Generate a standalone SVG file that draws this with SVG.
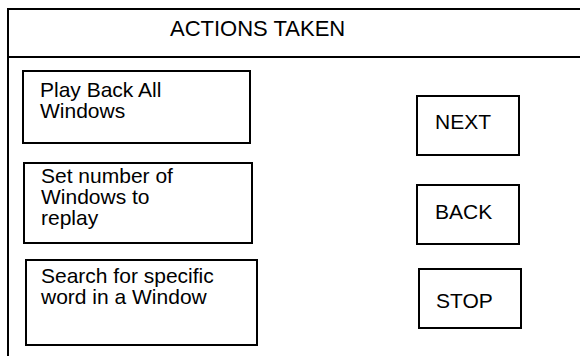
<svg xmlns="http://www.w3.org/2000/svg" width="580" height="356" viewBox="0 0 580 356">
  <style>
    .frame { fill: none; stroke: #000; stroke-width: 2; }
    .box { fill: #fff; stroke: #000; stroke-width: 2; }
    .lbl { font-family: "Liberation Sans", Arial, sans-serif; font-size: 21px; fill: #000; }
    .title { font-size: 22px; }
  </style>
  <rect width="580" height="356" fill="#fff"/>
  <!-- outer panel with title strip -->
  <g id="panel">
    <rect class="frame" x="8" y="9" width="600" height="380"/>
    <line class="frame" x1="8" y1="57" x2="580" y2="57"/>
    <text class="lbl title" x="170" y="36">ACTIONS TAKEN</text>
  </g>
  <g id="play-back">
    <rect class="box" x="23" y="71" width="227" height="72"/>
    <text class="lbl" x="40" y="97">Play Back All</text>
    <text class="lbl" x="40" y="118">Windows</text>
  </g>
  <g id="set-number">
    <rect class="box" x="24" y="163" width="228" height="80"/>
    <text class="lbl" x="41" y="183">Set number of</text>
    <text class="lbl" x="41" y="204">Windows to</text>
    <text class="lbl" x="41" y="225">replay</text>
  </g>
  <g id="search">
    <rect class="box" x="26" y="260" width="231" height="85"/>
    <text class="lbl" x="41" y="283">Search for specific</text>
    <text class="lbl" x="41" y="304">word in a Window</text>
  </g>
  <g id="next">
    <rect class="box" x="417" y="96" width="102" height="59"/>
    <text class="lbl" x="435" y="129">NEXT</text>
  </g>
  <g id="back">
    <rect class="box" x="417" y="185" width="102" height="59"/>
    <text class="lbl" x="435" y="219">BACK</text>
  </g>
  <g id="stop">
    <rect class="box" x="419" y="269" width="102" height="59"/>
    <text class="lbl" x="436" y="308">STOP</text>
  </g>
  <g id="connectors"/>
</svg>
